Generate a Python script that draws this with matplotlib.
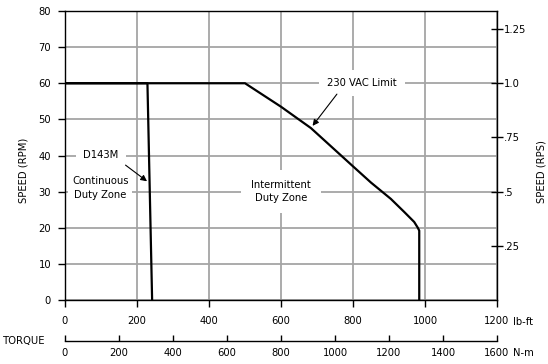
import matplotlib
matplotlib.use('Agg')
import matplotlib.pyplot as plt

plt.rcParams['font.family'] = ['DejaVu Sans']
plt.rcParams['font.stretch'] = 'condensed'

# 230 VAC limit curve (lb-ft, RPM)
limit_torque = [0, 500, 600, 683, 800, 850, 905, 942, 970, 980, 984, 984]
limit_speed = [60, 60, 53.5, 47.6, 37.0, 32.5, 28.0, 24.4, 21.6, 20.0, 19.2, 0]

# D143M continuous duty curve
cont_torque = [0, 229, 242]
cont_speed = [60, 60, 0]

lbft_ticks = [0, 200, 400, 600, 800, 1000, 1200]
nm_ticks = [0, 200, 400, 600, 800, 1000, 1200, 1400, 1600]
rpm_ticks = [0, 10, 20, 30, 40, 50, 60, 70, 80]
rps_ticks = [0.25, 0.5, 0.75, 1.0, 1.25]
rps_labels = ['.25', '.5', '.75', '1.0', '1.25']

fs = 8
fig = plt.figure(figsize=(5.48, 3.64), dpi=100)
ax = fig.add_axes([65/548, 64/364, 432/548, 289/364])

ax.set_xlim(0, 1200)
ax.set_ylim(0, 80)
ax.set_xticks(lbft_ticks)
ax.set_yticks(rpm_ticks)
ax.grid(True, color='#a5a5a5', lw=1.3, zorder=0)
ax.set_axisbelow(True)
ax.tick_params(axis='x', direction='out', length=5, width=1, pad=6.5, labelsize=fs)
ax.tick_params(axis='y', direction='out', length=5, width=1, pad=5, labelsize=fs)
for s in ax.spines.values():
    s.set_linewidth(1)

ax.plot(limit_torque, limit_speed, color='black', lw=1.6, zorder=3)
ax.plot(cont_torque, cont_speed, color='black', lw=1.6, zorder=3)

box = dict(boxstyle='square,pad=0.7', fc='white', ec='none')
ax.text(825, 60, '230 VAC Limit', ha='center', va='center', fontsize=fs, bbox=box, zorder=4)
ax.annotate('', xy=(683, 47.6), xytext=(760, 57.6),
            arrowprops=dict(arrowstyle='-|>', color='black', lw=0.8, mutation_scale=9), zorder=5)
ax.text(100, 40, 'D143M', ha='center', va='center', fontsize=fs, bbox=box, zorder=4)
ax.annotate('', xy=(234, 32.4), xytext=(162, 37.8),
            arrowprops=dict(arrowstyle='-|>', color='black', lw=0.8, mutation_scale=9), zorder=5)
ax.text(98, 31, 'Continuous\nDuty Zone', ha='center', va='center', fontsize=fs,
        linespacing=1.4, bbox=dict(boxstyle='square,pad=0.35', fc='white', ec='none'), zorder=4)
ax.text(600, 30, 'Intermittent\nDuty Zone', ha='center', va='center', fontsize=fs,
        linespacing=1.4, bbox=dict(boxstyle='square,pad=0.9', fc='white', ec='none'), zorder=4)

# right axis in RPS
axr = ax.twinx()
axr.set_ylim(0, 80 / 60)
axr.set_yticks(rps_ticks)
axr.set_yticklabels(rps_labels)
axr.tick_params(axis='y', direction='inout', length=8, width=1, pad=1, labelsize=fs)
for s in axr.spines.values():
    s.set_visible(False)

# second torque axis in N-m
axn = ax.twiny()
axn.set_xlim(0, 1600)
axn.set_xticks(nm_ticks)
axn.xaxis.set_ticks_position('bottom')
axn.xaxis.set_label_position('bottom')
for name, s in axn.spines.items():
    s.set_visible(name == 'bottom')
axn.spines['bottom'].set_position(('outward', 29.5))
axn.spines['bottom'].set_linewidth(1)
axn.tick_params(axis='x', direction='in', length=4, width=1, pad=5, labelsize=fs)

fig.text(23/548, 1 - 170/364, 'SPEED (RPM)', rotation=90, ha='center', va='center', fontsize=fs)
fig.text(541/548, 1 - 172/364, 'SPEED (RPS)', rotation=90, ha='center', va='center', fontsize=fs)
fig.text(24/548, 1 - 341/364, 'TORQUE', ha='center', va='center', fontsize=fs)
fig.text(513/548, 1 - 322/364, 'lb-ft', ha='left', va='center', fontsize=fs)
fig.text(513/548, 1 - 353/364, 'N-m', ha='left', va='center', fontsize=fs)

fig.savefig('out.png', dpi=100)
